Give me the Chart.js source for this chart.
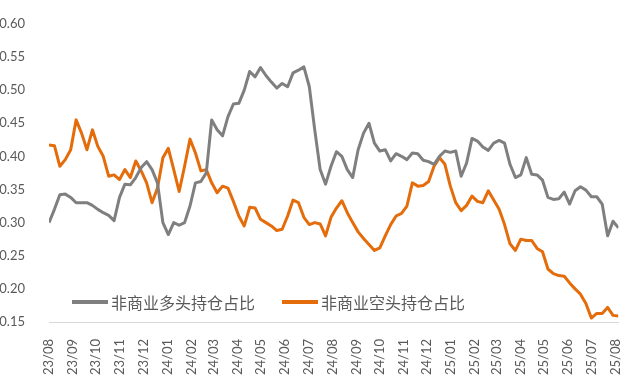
<!DOCTYPE html>
<html>
<head>
<meta charset="utf-8">
<script src="https://cdn.jsdelivr.net/npm/chart.js@4.4.0/dist/chart.umd.min.js"></script>
<style>
html,body{margin:0;padding:0;background:#fff;}
#wrap{position:relative;width:640px;height:380px;}
#c{display:block;}
#legend{position:absolute;left:72px;top:291px;display:flex;align-items:center;font-family:"Noto Sans CJK SC","Noto Sans",sans-serif;font-size:16px;line-height:22px;color:#595959;white-space:nowrap;}
.item{display:flex;align-items:center;margin-right:27px;}
.sw{width:36px;height:4px;margin-right:3px;}
</style>
</head>
<body>
<div id="wrap">
<canvas id="c" width="640" height="380"></canvas>
<div id="legend"></div>
</div>
<script>
// weekly observations starting 2023-08-01
const startDate = '2023-08-01';
const seriesNames = ['非商业多头持仓占比', '非商业空头持仓占比'];
const longShare = [
0.300,0.320,0.342,0.343,0.338,0.330,0.330,0.330,0.326,0.320,
0.315,0.311,0.303,0.338,0.358,0.357,0.368,0.383,0.392,0.380,
0.360,0.300,0.282,0.300,0.296,0.300,0.325,0.360,0.362,0.375,
0.455,0.440,0.431,0.460,0.479,0.480,0.500,0.528,0.520,0.534,
0.522,0.512,0.503,0.510,0.505,0.526,0.530,0.535,0.505,0.440,
0.380,0.358,0.385,0.407,0.400,0.380,0.368,0.410,0.435,0.450,
0.420,0.408,0.410,0.393,0.404,0.400,0.395,0.405,0.404,0.394,
0.392,0.388,0.400,0.408,0.406,0.408,0.370,0.390,0.427,0.423,
0.414,0.409,0.420,0.424,0.420,0.388,0.368,0.372,0.398,0.373,
0.372,0.364,0.338,0.335,0.336,0.346,0.328,0.348,0.354,0.349,
0.339,0.339,0.328,0.280,0.302,0.292
];
const shortShare = [
0.417,0.416,0.385,0.395,0.410,0.455,0.435,0.410,0.440,0.415,
0.400,0.370,0.372,0.365,0.380,0.368,0.393,0.378,0.360,0.330,
0.352,0.398,0.412,0.380,0.347,0.385,0.426,0.405,0.378,0.380,
0.360,0.345,0.355,0.352,0.332,0.310,0.295,0.323,0.322,0.305,
0.300,0.295,0.288,0.290,0.310,0.334,0.330,0.308,0.297,0.300,
0.298,0.280,0.308,0.322,0.333,0.315,0.300,0.286,0.276,0.267,
0.258,0.262,0.280,0.297,0.310,0.314,0.325,0.360,0.355,0.356,
0.362,0.385,0.398,0.388,0.355,0.330,0.318,0.326,0.340,0.332,
0.330,0.348,0.334,0.320,0.297,0.268,0.258,0.275,0.273,0.273,
0.261,0.256,0.230,0.223,0.220,0.219,0.209,0.200,0.192,0.178,
0.156,0.163,0.163,0.172,0.160,0.159
];
const tickLabels = ['23/08','23/09','23/10','23/11','23/12','24/01','24/02','24/03','24/04','24/05','24/06','24/07','24/08','24/09','24/10','24/11','24/12','25/01','25/02','25/03','25/04','25/05','25/06','25/07','25/08'];
const yTicks = [0.15,0.20,0.25,0.30,0.35,0.40,0.45,0.50,0.55,0.60];

const colors = ['#7f7f7f', '#e46c0a'];
const textColor = '#595959';
const WEEK = 7 * 864e5;
const t0 = Date.parse(startDate + 'T00:00:00Z');
const tickPos = tickLabels.map(s => {
  const [yy, mm] = s.split('/').map(Number);
  return (Date.UTC(2000 + yy, mm - 1, 1) - t0) / WEEK;
});

const toPts = arr => arr.map((v, i) => ({x: i, y: v}));

new Chart(document.getElementById('c'), {
  type: 'line',
  data: {
    datasets: [
      {label: seriesNames[0], data: toPts(longShare), borderColor: colors[0], backgroundColor: colors[0], borderWidth: 3, pointRadius: 0, tension: 0, borderJoinStyle: 'round'},
      {label: seriesNames[1], data: toPts(shortShare), borderColor: colors[1], backgroundColor: colors[1], borderWidth: 3, pointRadius: 0, tension: 0, borderJoinStyle: 'round'}
    ]
  },
  options: {
    responsive: false,
    animation: false,
    layout: {padding: {top: 15, right: 10, bottom: 0, left: 0}},
    plugins: {legend: {display: false}, tooltip: {enabled: false}},
    scales: {
      x: {
        type: 'linear',
        min: 0,
        max: longShare.length - 1,
        grid: {display: false},
        border: {display: true, color: '#d9d9d9', width: 1},
        afterBuildTicks: s => { s.ticks = tickPos.map(v => ({value: v})); },
        afterFit: s => { s.height = 58; },
        ticks: {
          autoSkip: false,
          minRotation: 90,
          maxRotation: 90,
          padding: 9,
          color: textColor,
          font: {family: 'Lato', size: 13},
          callback: (v, i) => tickLabels[i]
        }
      },
      y: {
        min: 0.15,
        max: 0.60,
        grid: {display: false},
        border: {display: false},
        afterBuildTicks: s => { s.ticks = yTicks.map(v => ({value: v})); },
        afterFit: s => { s.width = 49; },
        ticks: {
          padding: 16,
          color: textColor,
          font: {family: 'Lato', size: 13},
          callback: v => v.toFixed(2)
        }
      }
    }
  }
});

const lg = document.getElementById('legend');
seriesNames.forEach((n, i) => {
  const it = document.createElement('div');
  it.className = 'item';
  const sw = document.createElement('span');
  sw.className = 'sw';
  sw.style.background = colors[i];
  const tx = document.createElement('span');
  tx.textContent = n;
  it.appendChild(sw); it.appendChild(tx);
  lg.appendChild(it);
});
</script>
</body>
</html>
